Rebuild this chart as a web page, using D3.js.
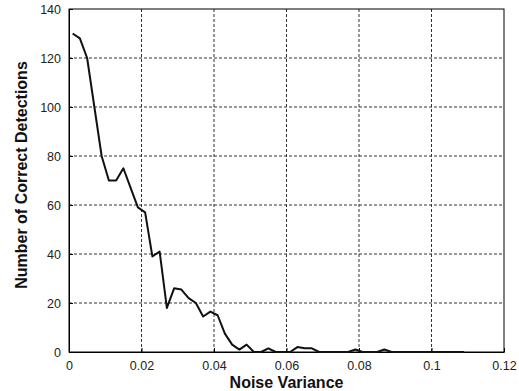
<!DOCTYPE html>
<html lang="en">
<head>
  <meta charset="utf-8">
  <title>Correct Detections vs Noise Variance</title>
  <style>
    body { margin: 0; background: #fff; }
    svg { display: block; font-family: "Liberation Sans", Arial, sans-serif; }
    .tick text { font-size: 12.5px; fill: #222; }
    .axis-label { font-size: 16px; font-weight: bold; fill: #111; }
  </style>
</head>
<body>
  <script src="https://cdnjs.cloudflare.com/ajax/libs/d3/7.8.5/d3.min.js"></script>
  <div class="visHolder"></div>
  <script type="text/javascript">
// noise variance sampled every 0.002 starting at 0.001
const noiseVariance = [
  0.001, 0.003, 0.005, 0.007, 0.009, 0.011, 0.013, 0.015, 0.017, 0.019,
  0.021, 0.023, 0.025, 0.027, 0.029, 0.031, 0.033, 0.035, 0.037, 0.039,
  0.041, 0.043, 0.045, 0.047, 0.049, 0.051, 0.053, 0.055, 0.057, 0.059,
  0.061, 0.063, 0.065, 0.067, 0.069, 0.071, 0.073, 0.075, 0.077, 0.079,
  0.081, 0.083, 0.085, 0.087, 0.089, 0.091, 0.093, 0.095, 0.097, 0.099,
  0.101, 0.103, 0.105, 0.107, 0.109
];
const correctDetections = [
  130, 128, 120, 100, 80, 70, 70, 75, 67, 59,
  57, 39, 41, 18, 26, 25.5, 22, 20, 14.5, 16.5,
  15, 7.5, 3, 1, 3, 0, 0, 1.5, 0, 0,
  0, 2, 1.5, 1.5, 0, 0, 0, 0, 0, 1,
  0, 0, 0, 1, 0, 0, 0, 0, 0, 0,
  0, 0, 0, 0, 0
];
const xTicks = [0, 0.02, 0.04, 0.06, 0.08, 0.1, 0.12];
const yTicks = [0, 20, 40, 60, 80, 100, 120, 140];

const width = 519,
  height = 391,
  margin = {top: 9, right: 15, bottom: 39, left: 69};
const plotW = width - margin.left - margin.right,
  plotH = height - margin.top - margin.bottom;

const svg = d3.select('.visHolder')
  .append('svg')
  .attr('width', width)
  .attr('height', height);

const g = svg.append('g')
  .attr('transform', `translate(${margin.left},${margin.top})`);

const xScale = d3.scaleLinear()
  .domain([0, 0.12])
  .range([0, plotW]);

const yScale = d3.scaleLinear()
  .domain([0, 140])
  .range([plotH, 0]);

// dashed grid
g.append('g')
  .selectAll('line')
  .data(xTicks.slice(1, -1))
  .enter()
  .append('line')
  .attr('x1', d => xScale(d))
  .attr('x2', d => xScale(d))
  .attr('y1', 0)
  .attr('y2', plotH)
  .attr('stroke', '#333')
  .attr('stroke-dasharray', '3,2');

g.append('g')
  .selectAll('line')
  .data(yTicks.slice(1, -1))
  .enter()
  .append('line')
  .attr('x1', 0)
  .attr('x2', plotW)
  .attr('y1', d => yScale(d))
  .attr('y2', d => yScale(d))
  .attr('stroke', '#333')
  .attr('stroke-dasharray', '3,2');

const xAxis = d3.axisBottom(xScale)
  .tickValues(xTicks)
  .tickFormat(d => d3.format('~g')(d))
  .tickSizeInner(-4)
  .tickSizeOuter(0)
  .tickPadding(9);

g.append('g')
  .attr('id', 'x-axis')
  .attr('transform', `translate(0,${plotH})`)
  .call(xAxis);

const yAxis = d3.axisLeft(yScale)
  .tickValues(yTicks)
  .tickSizeInner(-4)
  .tickSizeOuter(0)
  .tickPadding(8);

g.append('g')
  .attr('id', 'y-axis')
  .call(yAxis);

g.selectAll('.domain').attr('stroke', '#000');
g.selectAll('.tick line').attr('stroke', '#000');

// box around the plot
g.append('rect')
  .attr('width', plotW)
  .attr('height', plotH)
  .attr('fill', 'none')
  .attr('stroke', '#000')
  .attr('stroke-width', 1);

const line = d3.line()
  .x((d, i) => xScale(noiseVariance[i]))
  .y(d => yScale(d));

g.append('path')
  .datum(correctDetections)
  .attr('d', line)
  .attr('fill', 'none')
  .attr('stroke', '#111')
  .attr('stroke-width', 2)
  .attr('stroke-linejoin', 'round');

svg.append('text')
  .attr('class', 'axis-label')
  .attr('x', margin.left + plotW / 2)
  .attr('y', 388)
  .attr('text-anchor', 'middle')
  .text('Noise Variance');

svg.append('text')
  .attr('class', 'axis-label')
  .attr('transform', 'rotate(-90)')
  .attr('x', -175)
  .attr('y', 27)
  .attr('text-anchor', 'middle')
  .text('Number of Correct Detections');
  </script>
</body>
</html>
